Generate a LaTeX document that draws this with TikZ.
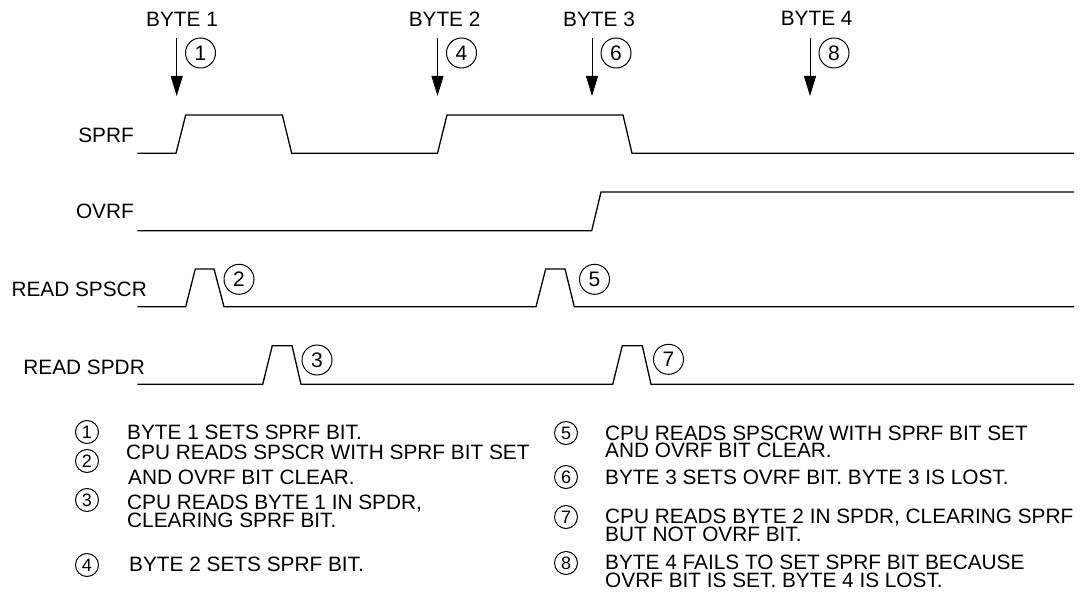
\documentclass[tikz,border=0pt]{standalone}
\usepackage{fontspec}
\setmainfont{Liberation Sans}
\usetikzlibrary{arrows.meta}
\begin{document}
\begin{tikzpicture}[x=1pt,y=-1pt,
  wave/.style={line width=1.3pt, line join=miter},
  lbl/.style={font=\fontsize{20.8}{24}\selectfont, inner sep=0pt},
  bignum/.style={circle, draw, line width=1pt, minimum size=30pt, inner sep=0pt, font=\fontsize{21}{21}\selectfont},
  smallnum/.style={circle, draw, line width=1pt, minimum size=23pt, inner sep=0pt, font=\fontsize{18}{18}\selectfont},
  evt/.style={line width=1pt, -{Triangle[length=20pt,width=12pt]}},
  legend/.style={font=\fontsize{20.8}{17.5}\selectfont, inner sep=0pt, anchor=base west, align=left}
]
\useasboundingbox (0,0) rectangle (1086,612);

% top byte labels
\node[lbl, anchor=base] (b1) at (182,26.8) {BYTE 1};
\node[lbl, anchor=base] (b2) at (444.6,26.8) {BYTE 2};
\node[lbl, anchor=base] (b3) at (599,26.8) {BYTE 3};
\node[lbl, anchor=base] (b4) at (816.7,25.8) {BYTE 4};

% event arrows
\coordinate (a1s) at (176.7,38); \coordinate (a1e) at (176.7,96);
\coordinate (a2s) at (437.5,38); \coordinate (a2e) at (437.5,96);
\coordinate (a3s) at (592,38);   \coordinate (a3e) at (592,96);
\coordinate (a4s) at (810,38);   \coordinate (a4e) at (810,96);
\draw[evt] (a1s) -- (a1e);
\draw[evt] (a2s) -- (a2e);
\draw[evt] (a3s) -- (a3e);
\draw[evt] (a4s) -- (a4e);

\node[bignum] (c1) at (200.5,53) {1};
\node[bignum] (c4) at (461.5,53) {4};
\node[bignum] (c6) at (616,53) {6};
\node[bignum] (c8) at (834,53) {8};

% signal names
\node[lbl, anchor=base east] (nsprf) at (134,142.3) {SPRF};
\node[lbl, anchor=base east] (novrf) at (134,219) {OVRF};
\node[lbl, anchor=base east] (nscr) at (147,296.6) {READ SPSCR};
\node[lbl, anchor=base east] (ndr) at (145,374) {READ SPDR};

% waveforms
\draw[wave] (137.3,153.3) -- (176,153.3) -- (185.7,115) -- (282.3,115) -- (291.7,153.3)
  -- (437.5,153.3) -- (447,115) -- (623,115) -- (632,153.3) -- (1074,153.3);
\draw[wave] (137.3,230.7) -- (591.7,230.7) -- (601,192) -- (1074,192);
\draw[wave] (137.3,306.7) -- (185.7,306.7) -- (195.3,269) -- (214,269) -- (224,306.7)
  -- (536,306.7) -- (545.7,269) -- (565,269) -- (574.3,306.7) -- (1074,306.7);
\draw[wave] (137.3,384.3) -- (262.7,384.3) -- (272.3,345.7) -- (292,345.7) -- (301,384.3)
  -- (612.7,384.3) -- (622.3,345.7) -- (642.3,345.7) -- (651,384.3) -- (1074,384.3);

\node[bignum] (c2) at (239,279.3) {2};
\node[bignum] (c5) at (594.5,279.3) {5};
\node[bignum] (c3) at (317,360) {3};
\node[bignum] (c7) at (668.5,359.3) {7};

% legend, left column (base = baseline of last line)
\node[smallnum] (l1) at (87,432) {1};
\node[smallnum] (l2) at (87,461) {2};
\node[smallnum] (l3) at (87,500) {3};
\node[smallnum] (l4) at (87,565) {4};
\node[legend] (t1) at (127,439.3) {BYTE 1 SETS SPRF BIT.};
\node[legend] (t2) at (126,484.3) {CPU READS SPSCR WITH SPRF BIT SET\\[7.5pt]\hspace*{2pt}AND OVRF BIT CLEAR.};
\node[legend] (t3) at (127,527.3) {CPU READS BYTE 1 IN SPDR,\\CLEARING SPRF BIT.};
\node[legend] (t4) at (129,571.3) {BYTE 2 SETS SPRF BIT.};

% legend, right column
\node[smallnum] (l5) at (566,433) {5};
\node[smallnum] (l6) at (566,477) {6};
\node[smallnum] (l7) at (566,517) {7};
\node[smallnum] (l8) at (566,563) {8};
\node[legend] (t5) at (605,457.8) {CPU READS SPSCRW WITH SPRF BIT SET\\AND OVRF BIT CLEAR.};
\node[legend] (t6) at (605,484.3) {BYTE 3 SETS OVRF BIT. BYTE 3 IS LOST.};
\node[legend] (t7) at (605,541.3) {CPU READS BYTE 2 IN SPDR, CLEARING SPRF\\BUT NOT OVRF BIT.};
\node[legend] (t8) at (605,587.3) {BYTE 4 FAILS TO SET SPRF BIT BECAUSE\\OVRF BIT IS SET. BYTE 4 IS LOST.};
\end{tikzpicture}
\end{document}
